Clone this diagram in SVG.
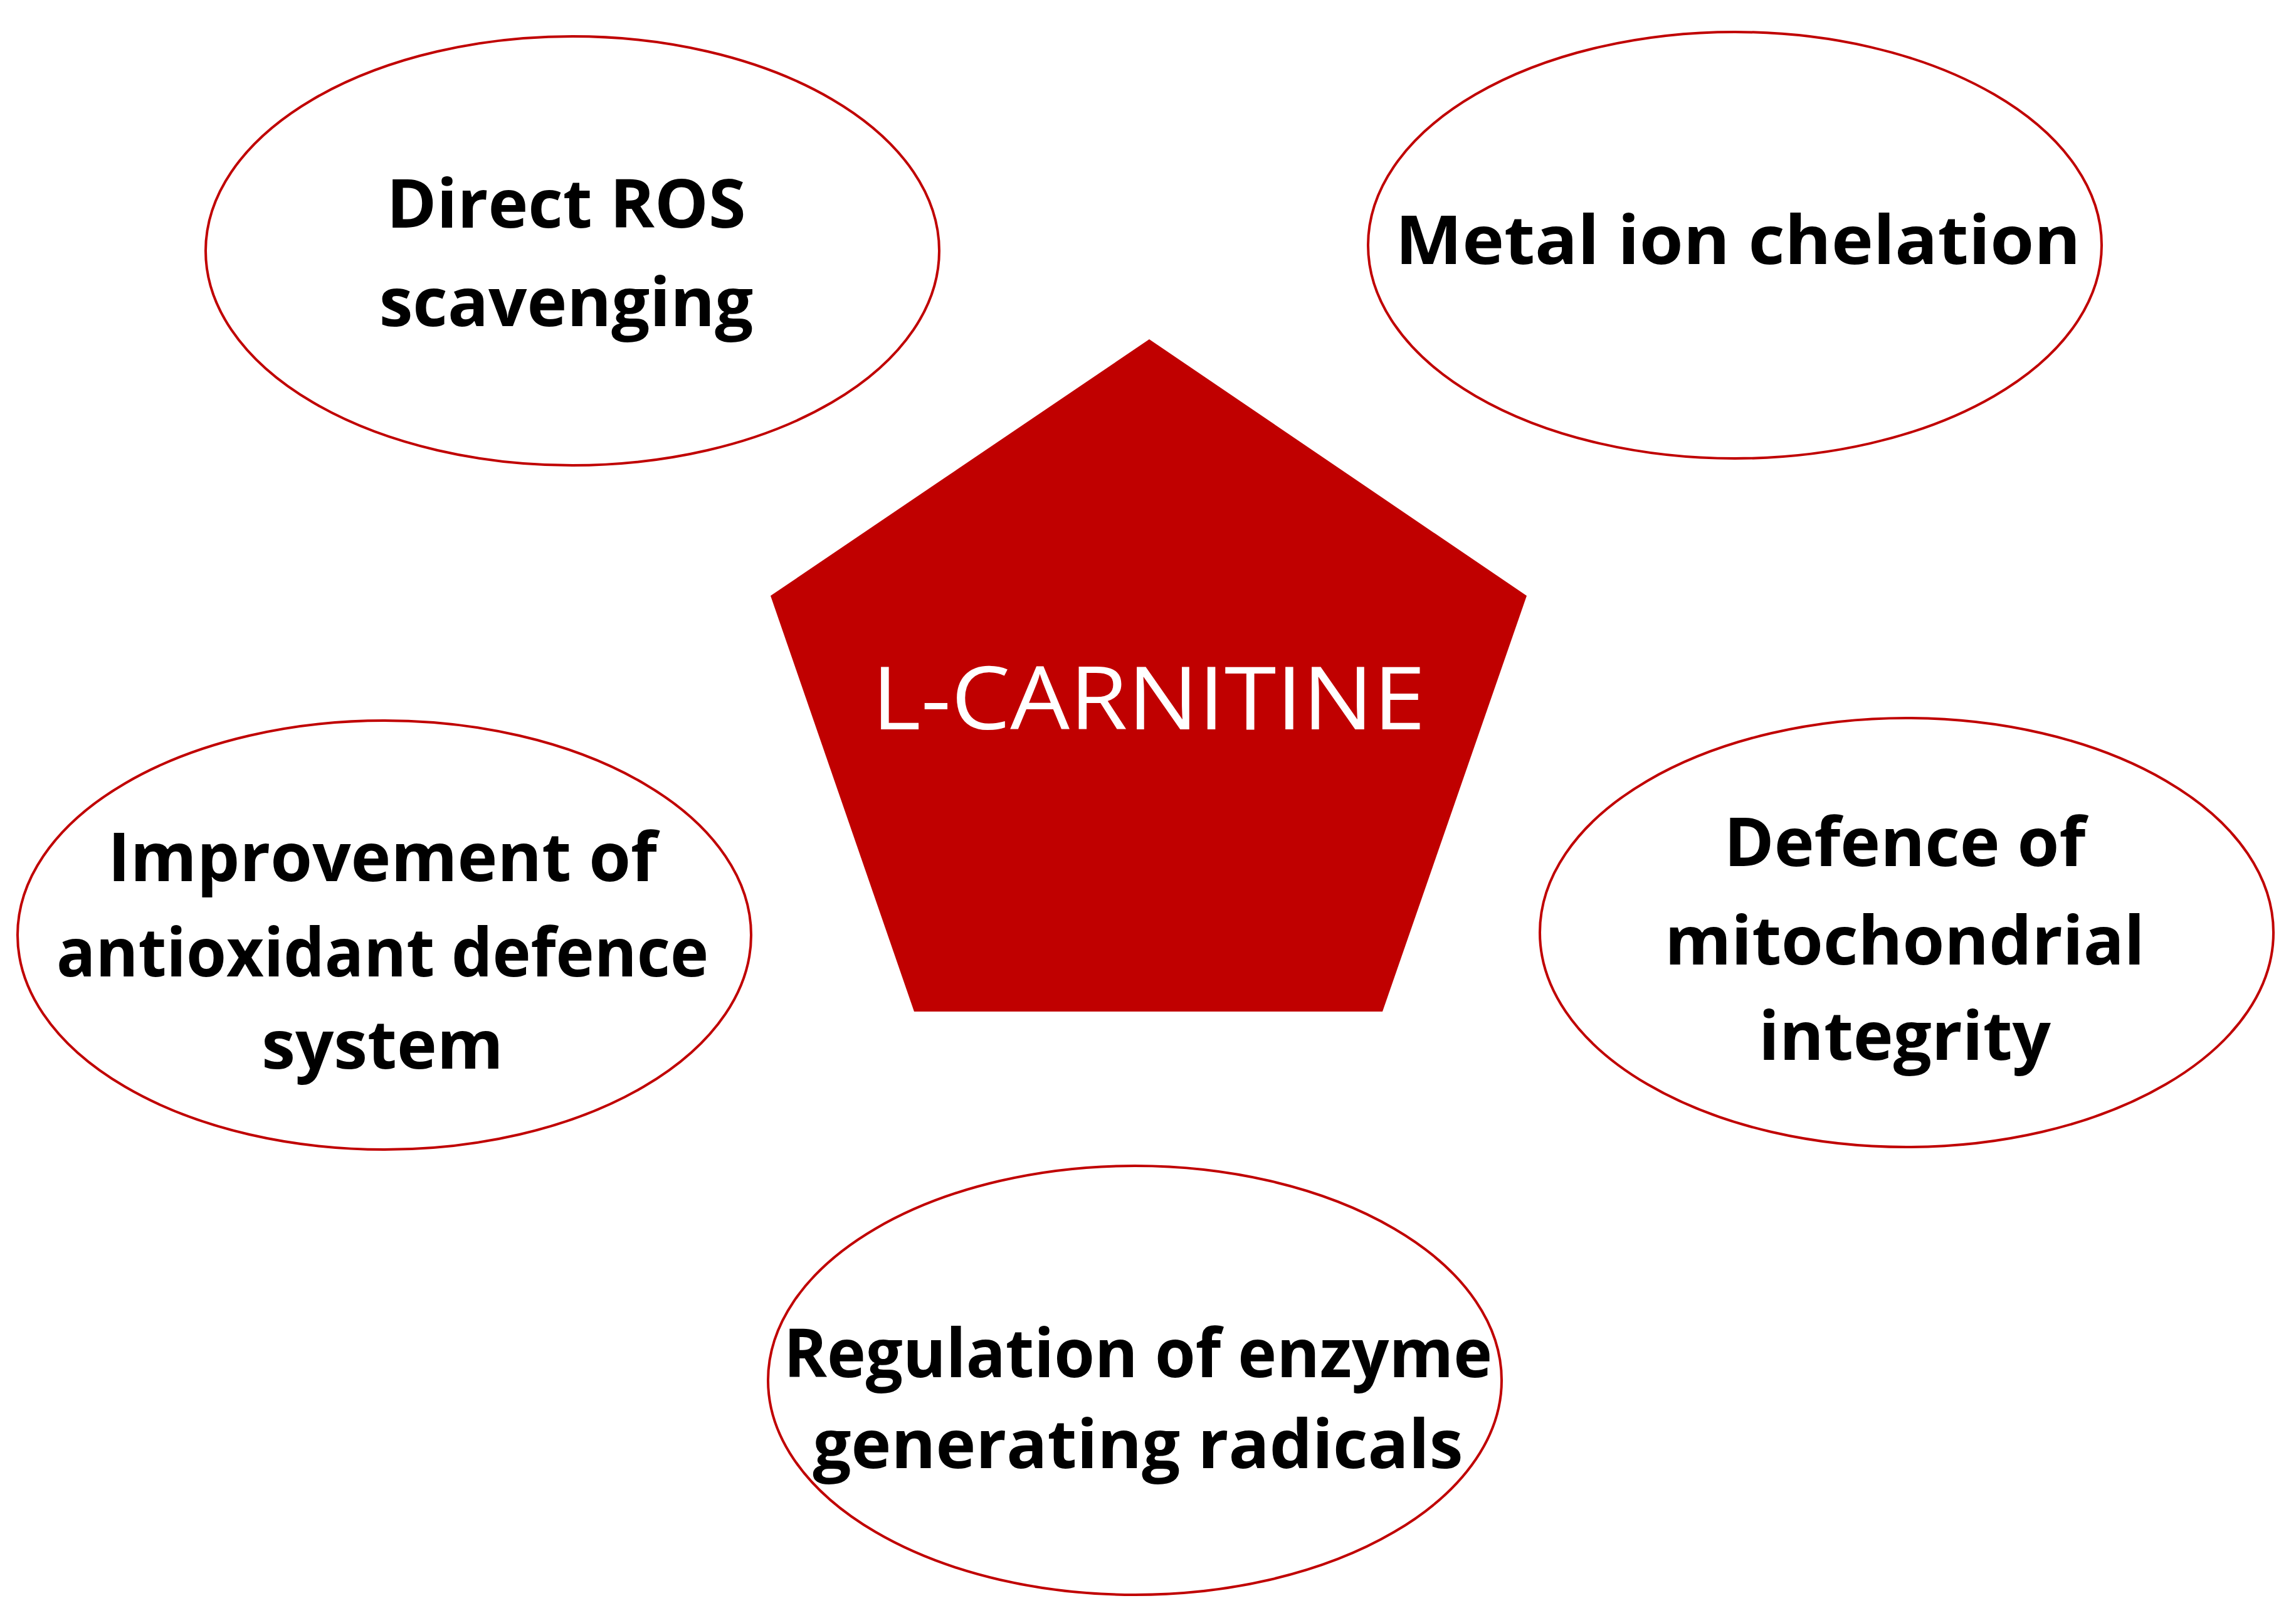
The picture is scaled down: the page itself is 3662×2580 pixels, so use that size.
<svg xmlns="http://www.w3.org/2000/svg" width="3662" height="2580" viewBox="0 0 3662 2580">
<style>
.e{fill:#fff;stroke:#C00000;stroke-width:4}
.t{font-family:"Open Sans","Liberation Sans",sans-serif;font-weight:bold;font-size:108px;fill:#000;text-anchor:middle}
.c{font-family:"Open Sans","Liberation Sans",sans-serif;font-size:140px;fill:#fff;text-anchor:middle}
</style>
<rect width="3662" height="2580" fill="#fff"/>
<g id="center">
<polygon points="1833,541 2435,950 2205,1613 1458,1613 1229,950" fill="#C00000"/>
<text class="c" x="1832" y="1163" textLength="883" lengthAdjust="spacingAndGlyphs">L-CARNITINE</text>
</g>
<g id="n1"><ellipse class="e" cx="913" cy="400" rx="585" ry="342"/>
<text class="t" x="903" y="363">Direct ROS</text><text class="t" x="903" y="520">scavenging</text></g>
<g id="n2"><ellipse class="e" cx="2767" cy="391" rx="585" ry="340"/>
<text class="t" x="2772" y="421" textLength="1093" lengthAdjust="spacingAndGlyphs">Metal ion chelation</text></g>
<g id="n3"><ellipse class="e" cx="613" cy="1491" rx="585" ry="342"/>
<text class="t" x="610" y="1405">Improvement of</text>
<text class="t" x="610" y="1557" textLength="1040" lengthAdjust="spacingAndGlyphs">antioxidant defence</text>
<text class="t" x="610" y="1704">system</text></g>
<g id="n4"><ellipse class="e" cx="3041" cy="1487" rx="585" ry="342"/>
<text class="t" x="3038" y="1381">Defence of</text><text class="t" x="3038" y="1538">mitochondrial</text><text class="t" x="3038" y="1690">integrity</text></g>
<g id="n5"><ellipse class="e" cx="1810" cy="2201" rx="585" ry="342"/>
<text class="t" x="1815" y="2196" textLength="1130" lengthAdjust="spacingAndGlyphs">Regulation of enzyme</text>
<text class="t" x="1815" y="2341">generating radicals</text></g>
<g id="connectors"/>
</svg>
